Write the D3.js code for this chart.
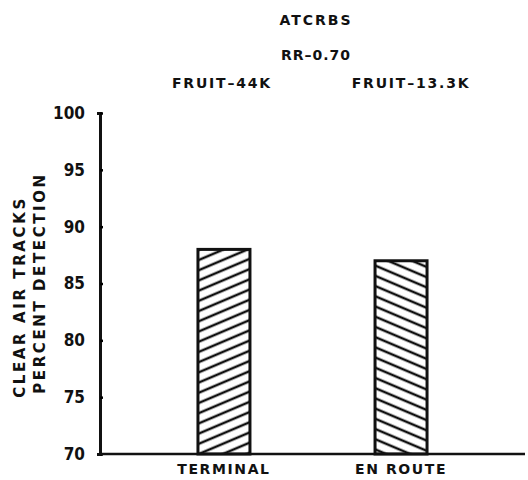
<!DOCTYPE html>
<html>
<head>
<meta charset="utf-8">
<script src="https://cdn.jsdelivr.net/npm/d3@7"></script>
<style>
  body { margin: 0; background: #fff; }
  text { font-family: "DejaVu Sans", sans-serif; font-weight: bold; fill: #111; }
</style>
</head>
<body>
<div class="chart"></div>
<script>
// data
const categories = ['TERMINAL', 'EN ROUTE'];
const detection = [88, 87];
const fruitLabels = ['FRUIT\u201344K', 'FRUIT\u201313.3K'];
const yTicks = [70, 75, 80, 85, 90, 95, 100];

const width = 528;
const height = 480;
const margin = { top: 113, right: 3, bottom: 26, left: 100 };
const innerW = width - margin.left - margin.right;
const innerH = height - margin.top - margin.bottom;

const svg = d3.select('.chart')
  .append('svg')
  .attr('width', width)
  .attr('height', height);

// hatch patterns, one leaning each way
const defs = svg.append('defs');
[['hatchUp', -23], ['hatchDown', 23]].forEach(([id, angle]) => {
  const p = defs.append('pattern')
    .attr('id', id)
    .attr('patternUnits', 'userSpaceOnUse')
    .attr('width', 10)
    .attr('height', 9.4)
    .attr('patternTransform', 'rotate(' + angle + ')');
  p.append('line')
    .attr('x1', -2).attr('x2', 12)
    .attr('y1', 4.7).attr('y2', 4.7)
    .attr('stroke', '#111')
    .attr('stroke-width', 2.5);
});

const group = svg.append('g')
  .attr('transform', 'translate(' + margin.left + ',' + margin.top + ')');

const xScale = d3.scalePoint().domain(categories).range([0, innerW]).padding(0.7);
const yScale = d3.scaleLinear().domain([70, 100]).range([innerH, 0]);

// bars
const barW = 52;
group.selectAll('.bar')
  .data(categories)
  .join('rect')
  .attr('class', 'bar')
  .attr('x', d => xScale(d) - barW / 2)
  .attr('y', (d, i) => yScale(detection[i]))
  .attr('width', barW)
  .attr('height', (d, i) => innerH - yScale(detection[i]))
  .attr('fill', (d, i) => i === 0 ? 'url(#hatchUp)' : 'url(#hatchDown)')
  .attr('stroke', '#111')
  .attr('stroke-width', 3);

// y axis
const yAxis = d3.axisLeft(yScale).tickValues(yTicks).tickSize(3).tickPadding(12);
const yAxisGroup = group.append('g').call(yAxis);
yAxisGroup.select('.domain').attr('stroke', '#111').attr('stroke-width', 3);
yAxisGroup.selectAll('.tick line').attr('x2', 3).attr('stroke-width', 2.5);
yAxisGroup.selectAll('.tick text')
  .style('font-family', '"Liberation Sans Narrow", "DejaVu Sans Condensed", sans-serif')
  .style('font-size', '17px');

// x axis baseline
group.append('line')
  .attr('x1', 0).attr('x2', innerW)
  .attr('y1', innerH).attr('y2', innerH)
  .attr('stroke', '#111')
  .attr('stroke-width', 2.5);

group.selectAll('.cat')
  .data(categories)
  .join('text')
  .attr('class', 'cat')
  .attr('x', d => xScale(d))
  .attr('y', innerH + 20)
  .attr('text-anchor', 'middle')
  .style('font-size', '14px')
  .style('letter-spacing', '1.6px')
  .text(d => d);

// fruit labels above each bar
group.selectAll('.fruit')
  .data(categories)
  .join('text')
  .attr('class', 'fruit')
  .attr('x', (d, i) => xScale(d) + (i === 0 ? -2 : 10))
  .attr('y', -25)
  .attr('text-anchor', 'middle')
  .style('font-size', '14px')
  .style('letter-spacing', '1.8px')
  .text((d, i) => fruitLabels[i]);

// titles
svg.append('text')
  .attr('x', 316).attr('y', 25)
  .attr('text-anchor', 'middle')
  .style('font-size', '14px')
  .style('letter-spacing', '2px')
  .text('ATCRBS');

svg.append('text')
  .attr('x', 316).attr('y', 60)
  .attr('text-anchor', 'middle')
  .style('font-size', '14px')
  .style('letter-spacing', '1px')
  .text('RR\u20130.70');

// y axis title, two lines
const yTitle = svg.append('text')
  .attr('transform', 'translate(25,290) rotate(-90)')
  .attr('text-anchor', 'middle')
  .style('font-size', '15px')
  .style('letter-spacing', '2.6px');
yTitle.append('tspan').attr('x', -7).attr('dy', 0).text('CLEAR AIR TRACKS');
yTitle.append('tspan').attr('x', 7).attr('dy', 20).text('PERCENT DETECTION');
</script>
</body>
</html>
